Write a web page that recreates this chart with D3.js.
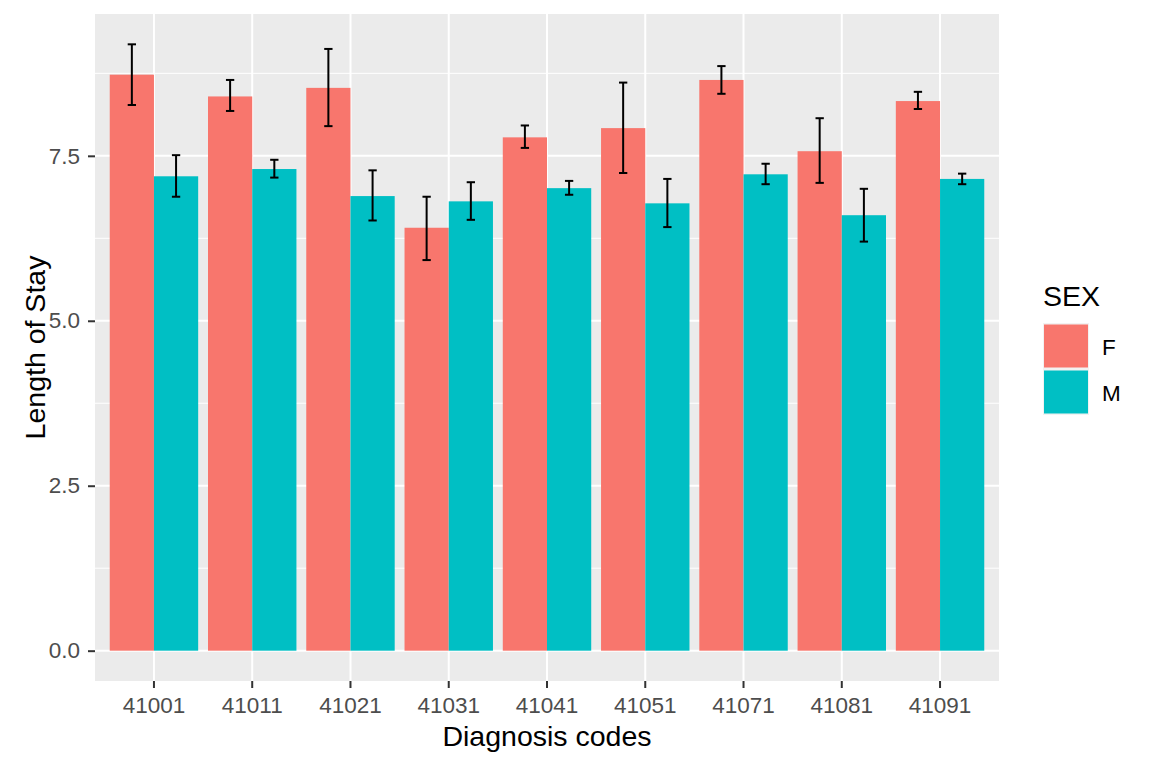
<!DOCTYPE html>
<html>
<head>
<meta charset="utf-8">
<script src="https://cdn.jsdelivr.net/npm/d3@7"></script>
<style>
  body { margin: 0; background: #fff; }
  svg text { font-family: "Liberation Sans", Arial, sans-serif; }
</style>
</head>
<body>
<div id="chart"></div>
<script>
// Data
const codes = ["41001", "41011", "41021", "41031", "41041", "41051", "41071", "41081", "41091"];
const sexes = ["F", "M"];
const meanF = [8.73, 8.40, 8.53, 6.41, 7.78, 7.92, 8.65, 7.57, 8.33];
const lowF  = [8.27, 8.18, 7.95, 5.92, 7.62, 7.24, 8.44, 7.09, 8.21];
const highF = [9.19, 8.65, 9.12, 6.88, 7.96, 8.61, 8.86, 8.07, 8.47];
const meanM = [7.19, 7.30, 6.89, 6.81, 7.01, 6.78, 7.22, 6.60, 7.15];
const lowM  = [6.88, 7.17, 6.52, 6.53, 6.91, 6.42, 7.07, 6.20, 7.07];
const highM = [7.51, 7.44, 7.28, 7.10, 7.12, 7.15, 7.38, 7.00, 7.23];
const yTicks = [0, 2.5, 5, 7.5];
const yMinorTicks = [1.25, 3.75, 6.25, 8.75];

const colors = { F: "#F8766D", M: "#00BFC4" };

// long format rows
var rows = [];
codes.forEach(function (c, i) {
    rows.push({ code: c, sex: "F", mean: meanF[i], lo: lowF[i], hi: highF[i] });
    rows.push({ code: c, sex: "M", mean: meanM[i], lo: lowM[i], hi: highM[i] });
});

var W = 1152, H = 768;
var panel = { left: 95, right: 999, top: 14, bottom: 681 };

var svg = d3.select("#chart").append("svg")
    .attr("width", W).attr("height", H);

// scales (ggplot-like expansion)
var x = d3.scaleBand()
    .domain(codes)
    .range([panel.left, panel.right])
    .paddingInner(0.1)
    .paddingOuter(0.15);
var xSub = d3.scaleBand().domain(sexes).range([0, x.bandwidth()]);

var yMax = d3.max(rows, d => d.hi);
var pad = yMax * 0.05;
var y = d3.scaleLinear()
    .domain([-pad, yMax + pad])
    .range([panel.bottom, panel.top]);

// panel background
svg.append("rect")
    .attr("x", panel.left).attr("y", panel.top)
    .attr("width", panel.right - panel.left)
    .attr("height", panel.bottom - panel.top)
    .attr("fill", "#EBEBEB");

// grid
svg.append("g").selectAll("line").data(yMinorTicks).enter().append("line")
    .attr("x1", panel.left).attr("x2", panel.right)
    .attr("y1", d => y(d)).attr("y2", d => y(d))
    .attr("stroke", "#fff").attr("stroke-width", 1);
svg.append("g").selectAll("line").data(yTicks).enter().append("line")
    .attr("x1", panel.left).attr("x2", panel.right)
    .attr("y1", d => y(d)).attr("y2", d => y(d))
    .attr("stroke", "#fff").attr("stroke-width", 2);
svg.append("g").selectAll("line").data(codes).enter().append("line")
    .attr("x1", d => x(d) + x.bandwidth() / 2).attr("x2", d => x(d) + x.bandwidth() / 2)
    .attr("y1", panel.top).attr("y2", panel.bottom)
    .attr("stroke", "#fff").attr("stroke-width", 2);

// bars
svg.append("g").selectAll("rect").data(rows).enter().append("rect")
    .attr("x", d => x(d.code) + xSub(d.sex))
    .attr("width", xSub.bandwidth())
    .attr("y", d => y(d.mean))
    .attr("height", d => y(0) - y(d.mean))
    .attr("fill", d => colors[d.sex]);

// error bars
var capHalf = x.bandwidth() * 0.047;
var eb = svg.append("g").attr("stroke", "#000").attr("stroke-width", 2);
rows.forEach(function (d) {
    var cx = x(d.code) + xSub(d.sex) + xSub.bandwidth() / 2;
    eb.append("line").attr("x1", cx).attr("x2", cx).attr("y1", y(d.lo)).attr("y2", y(d.hi));
    eb.append("line").attr("x1", cx - capHalf).attr("x2", cx + capHalf).attr("y1", y(d.lo)).attr("y2", y(d.lo));
    eb.append("line").attr("x1", cx - capHalf).attr("x2", cx + capHalf).attr("y1", y(d.hi)).attr("y2", y(d.hi));
});

// axes
var yAxis = svg.append("g")
    .attr("transform", "translate(" + panel.left + ",0)")
    .call(d3.axisLeft(y).tickValues(yTicks).tickFormat(d3.format(".1f")).tickSize(7).tickPadding(8));
var xAxis = svg.append("g")
    .attr("transform", "translate(0," + panel.bottom + ")")
    .call(d3.axisBottom(x).tickSize(7).tickPadding(9));
[yAxis, xAxis].forEach(function (a) {
    a.select(".domain").remove();
    a.selectAll(".tick line").attr("stroke", "#333333").attr("stroke-width", 2);
    a.selectAll(".tick text").attr("fill", "#4D4D4D")
        .style("font-size", "22.5px");
});

// axis titles
svg.append("text")
    .attr("x", (panel.left + panel.right) / 2).attr("y", 746)
    .attr("text-anchor", "middle")
    .style("font-size", "28.5px")
    .text("Diagnosis codes");
svg.append("text")
    .attr("transform", "translate(45," + (panel.top + panel.bottom) / 2 + ") rotate(-90)")
    .attr("text-anchor", "middle")
    .style("font-size", "28.5px")
    .text("Length of Stay");

// legend
var lg = svg.append("g").attr("transform", "translate(1043,0)");
lg.append("text").attr("x", 0).attr("y", 306).style("font-size", "28.5px").text("SEX");
sexes.forEach(function (s, i) {
    var ky = 323 + i * 46;
    lg.append("rect").attr("x", 0).attr("y", ky).attr("width", 46).attr("height", 46).attr("fill", "#F2F2F2");
    lg.append("rect").attr("x", 1).attr("y", ky + 1.5).attr("width", 44).attr("height", 43).attr("fill", colors[s]);
    lg.append("text").attr("x", 59).attr("y", ky + 32).style("font-size", "22.5px").text(s);
});
</script>
</body>
</html>
